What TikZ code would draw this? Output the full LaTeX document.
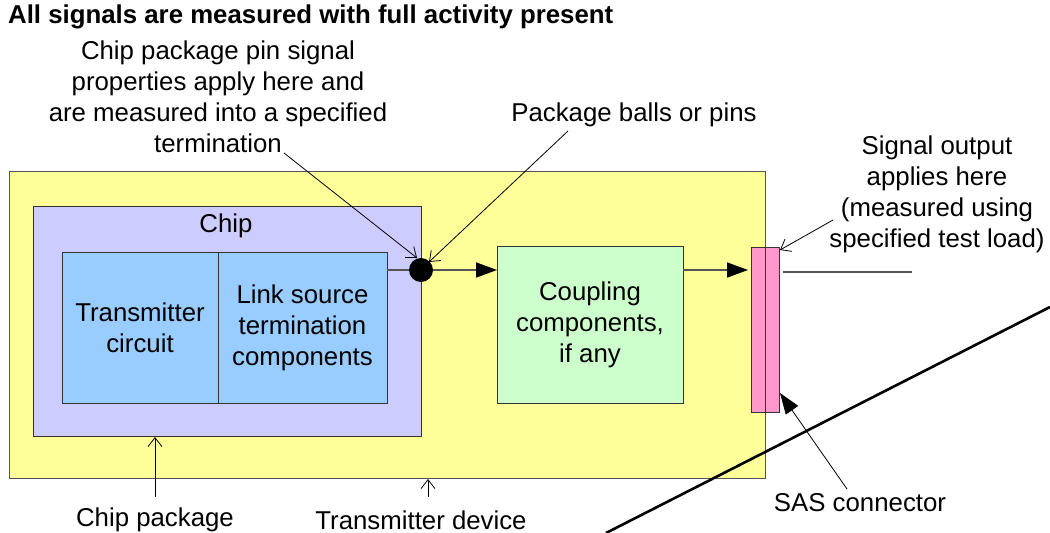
\documentclass[tikz,border=0pt]{standalone}
\usepackage{fontspec}
\setmainfont{Liberation Sans}
\usetikzlibrary{arrows.meta}
\definecolor{yel}{HTML}{FFFF99}
\definecolor{lav}{HTML}{CCCCFF}
\definecolor{blu}{HTML}{99CCFF}
\definecolor{grn}{HTML}{CCFFCC}
\definecolor{pnk}{HTML}{FF99CC}
\definecolor{edge}{HTML}{333333}
\definecolor{conn}{HTML}{555555}
\newcommand{\lblfont}{\fontsize{25.8}{31}\selectfont}
\tikzset{
  box/.style={draw=edge, line width=1pt, inner sep=0pt, outer sep=0pt, align=center},
  lbl/.style={align=center, inner sep=0pt, font=\lblfont},
  thinarrow/.style={draw=black, line width=0.8pt, -{Straight Barb[length=9pt,width=14pt,line width=0.8pt]}},
  bigarrow/.style={draw=conn, line width=1.6pt, -{Triangle[length=21pt,width=15pt,color=black,fill=black]}},
  signalline/.style={draw=conn, line width=1.6pt},
}
\begin{document}
\begin{tikzpicture}[x=1pt,y=-1pt]
\useasboundingbox (0,0) rectangle (1050,533);
% boxes
\node[box, draw=conn, fill=yel, minimum width=756pt, minimum height=307pt] (dev) at (387,324.5) {};
\node[box, fill=lav, minimum width=388pt, minimum height=230pt] (chip) at (227,321) {};
\node[lbl] (chiplbl) at (226,226) {Chip};
\node[box, fill=blu, minimum width=156pt, minimum height=151pt, font=\lblfont] (tx) at (140,327.5) {Transmitter\\circuit};
\node[box, fill=blu, minimum width=169pt, minimum height=151pt, font=\lblfont] (term) at (302.5,327.5) {Link source\\termination\\components};
\node[box, fill=grn, minimum width=186pt, minimum height=157pt, font=\lblfont] (coup) at (590,324.5) {Coupling\\components,\\if any};
\node[box, fill=pnk, minimum width=14pt, minimum height=165pt] (pinkL) at (758,329.5) {};
\node[box, fill=pnk, minimum width=14pt, minimum height=165pt] (pinkR) at (772,329.5) {};
\node[circle, fill=black, minimum size=24pt, inner sep=0pt] (dot) at (421,270) {};
% connections
\coordinate (termout) at (387,270);
\draw[signalline] (termout) -- (dot.west);
\draw[bigarrow] (dot.east) -- (coup.west |- dot);
\coordinate (coupout) at (683,270);
\coordinate (pinkin) at (748,270);
\draw[bigarrow] (coupout) -- (pinkin);
\coordinate (outA) at (783,272);
\coordinate (outB) at (912,272);
\draw[signalline] (outA) -- (outB);
% diagonal line
\coordinate (diagA) at (606,533);
\coordinate (diagB) at (1050,307);
\draw[black, line width=2.6pt] (diagA) -- (diagB);
% labels
\node[anchor=west, inner sep=0pt, font=\lblfont\bfseries] (title) at (8,17) {All signals are measured with full activity present};
\node[lbl] (pinlbl) at (218,96.5) {Chip package pin signal\\properties apply here and\\are measured into a specified\\termination};
\node[lbl] (balls) at (634,115) {Package balls or pins};
\node[lbl] (sig) at (937,194.5) {Signal output\\applies here\\(measured using\\specified test load)};
\node[lbl] (sas) at (860,503) {SAS connector};
\node[lbl] (cpkg) at (155,520) {Chip package};
\node[lbl] (tdev) at (421,520) {Transmitter device};
% label arrows
\coordinate (pinA) at (284,153);
\coordinate (pinB) at (417,258);
\draw[thinarrow] (pinA) -- (pinB);
\coordinate (ballA) at (568,131);
\coordinate (ballB) at (429,262);
\draw[thinarrow] (ballA) -- (ballB);
\coordinate (sigA) at (833,220);
\coordinate (sigB) at (780,250);
\draw[thinarrow] (sigA) -- (sigB);
\coordinate (cpA) at (155,497);
\draw[thinarrow] (cpA) -- (155,437);
\coordinate (tdA) at (428,497);
\draw[thinarrow] (tdA) -- (428,479);
\coordinate (sasA) at (847,489);
\coordinate (sasB) at (780,393);
\draw[draw=black, line width=0.8pt, -{Triangle[length=21pt,width=15pt]}] (sasA) -- (sasB);
\end{tikzpicture}
\end{document}
